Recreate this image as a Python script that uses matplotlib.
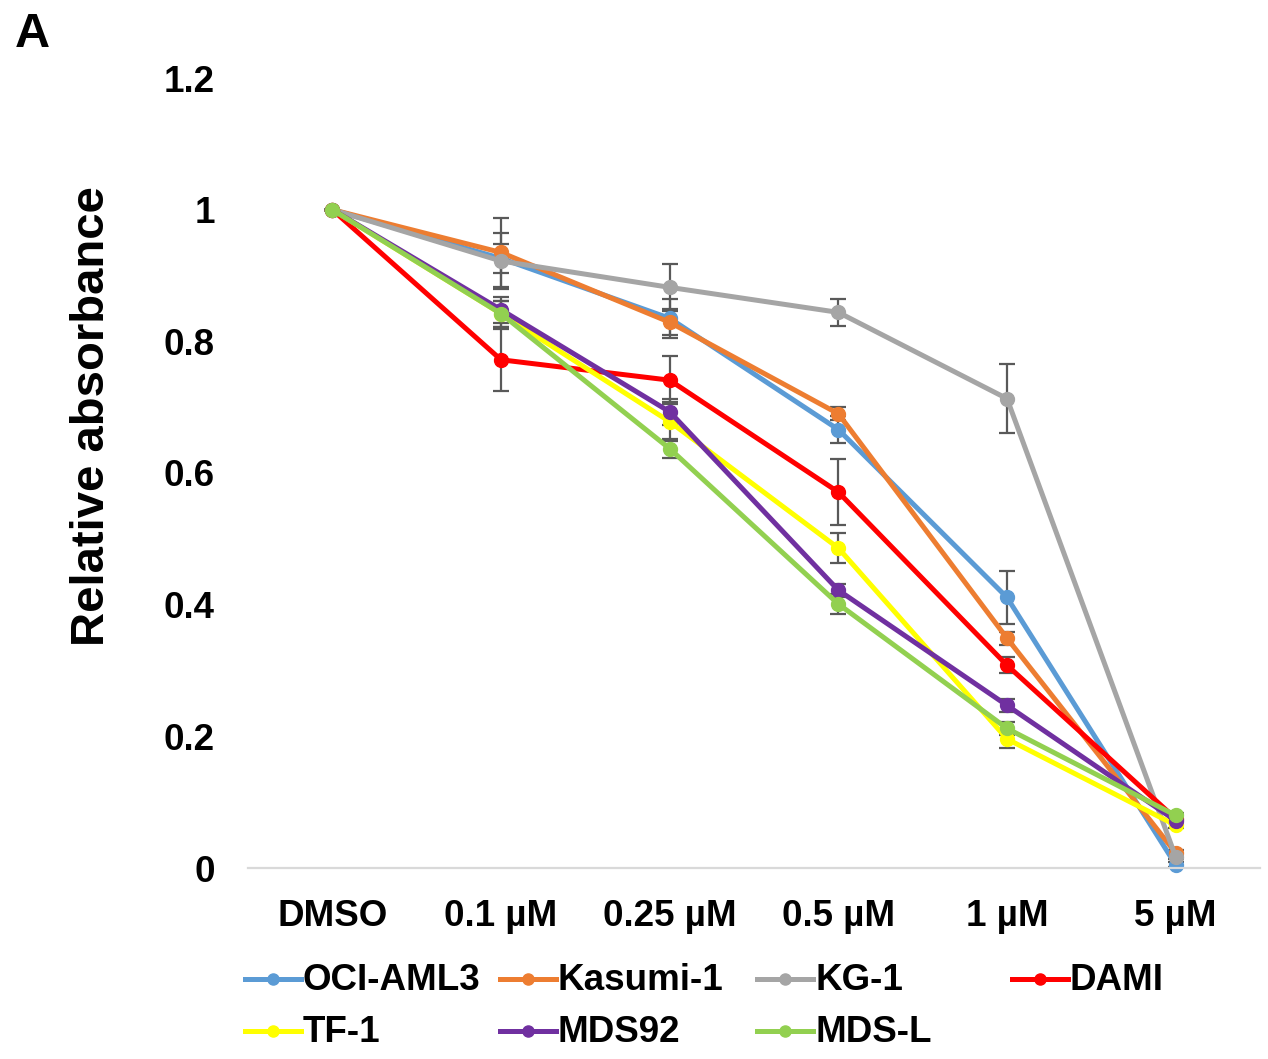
import matplotlib
matplotlib.use("Agg")
import matplotlib.pyplot as plt
from matplotlib.lines import Line2D

plt.rcParams['font.family'] = ['Liberation Sans', 'DejaVu Sans']
plt.rcParams['font.weight'] = 'bold'

# data
doses = ["DMSO", "0.1 \u00b5M", "0.25 \u00b5M", "0.5 \u00b5M", "1 \u00b5M", "5 \u00b5M"]
series_names = ["OCI-AML3", "Kasumi-1", "KG-1", "DAMI", "TF-1", "MDS92", "MDS-L"]
colors = ["#5B9BD5", "#ED7D31", "#A5A5A5", "#FF0000", "#FFFF00", "#7030A0", "#92D050"]

oci_aml3 = [1.0, 0.926, 0.835, 0.666, 0.411, 0.005]
kasumi_1 = [1.0, 0.935, 0.829, 0.690, 0.349, 0.023]
kg_1 = [1.0, 0.922, 0.882, 0.844, 0.713, 0.017]
dami = [1.0, 0.772, 0.741, 0.571, 0.308, 0.075]
tf_1 = [1.0, 0.842, 0.678, 0.486, 0.196, 0.065]
mds92 = [1.0, 0.848, 0.693, 0.422, 0.247, 0.072]
mds_l = [1.0, 0.842, 0.637, 0.401, 0.212, 0.080]

oci_aml3_err = [0, 0.022, 0.030, 0.021, 0.040, 0.004]
kasumi_1_err = [0, 0.053, 0.020, 0.010, 0.010, 0.004]
kg_1_err = [0, 0.043, 0.036, 0.021, 0.052, 0.004]
dami_err = [0, 0.047, 0.036, 0.050, 0.012, 0.004]
tf_1_err = [0, 0.020, 0.030, 0.023, 0.014, 0.004]
mds92_err = [0, 0.020, 0.020, 0.010, 0.010, 0.004]
mds_l_err = [0, 0.020, 0.014, 0.015, 0.010, 0.004]

values = [oci_aml3, kasumi_1, kg_1, dami, tf_1, mds92, mds_l]
errors = [oci_aml3_err, kasumi_1_err, kg_1_err, dami_err, tf_1_err, mds92_err, mds_l_err]

W, H = 1268, 1059
fig = plt.figure(figsize=(W / 100, H / 100), dpi=100)
ax = fig.add_axes([248 / W, 1 - 868 / H, (1260 - 248) / W, (868 - 78) / H])

x = list(range(len(doses)))

# error bars behind the lines
for vals, errs in zip(values, errors):
    ax.errorbar(x, vals, yerr=errs, fmt='none', ecolor='#595959',
                elinewidth=1.6, capsize=5.5, capthick=1.6, zorder=1)

for i, (name, vals, c) in enumerate(zip(series_names, values, colors)):
    ax.plot(x, vals, color=c, lw=3.6, marker='o', markersize=10,
            label=name, zorder=2 + i, clip_on=False)

ax.set_xlim(-0.5, len(doses) - 0.5)
ax.set_ylim(0, 1.2)
ax.set_yticks([0, 0.2, 0.4, 0.6, 0.8, 1.0, 1.2])
ax.set_yticklabels(["0", "0.2", "0.4", "0.6", "0.8", "1", "1.2"])
ax.set_xticks(x)
ax.set_xticklabels(doses)
ax.tick_params(axis='both', length=0, labelsize=26.5)
ax.tick_params(axis='y', pad=24)
ax.tick_params(axis='x', pad=22)
for lab in ax.get_xticklabels() + ax.get_yticklabels():
    lab.set_fontweight('bold')

for s in ['top', 'right', 'left']:
    ax.spines[s].set_visible(False)
ax.spines['bottom'].set_color('#D9D9D9')
ax.spines['bottom'].set_linewidth(1.6)

fig.text(92 / W, 1 - 416 / H, "Relative absorbance", rotation=90,
         ha='center', va='center', fontsize=34, fontweight='bold')
fig.text(15 / W, 1 - 12 / H, "A", ha='left', va='top',
         fontsize=35, fontweight='bold')

# legend, laid out like the original grid
col_x = [245, 500, 757, 1012]
row_y = [979, 1031]
for i, (name, c) in enumerate(zip(series_names, colors)):
    x0 = col_x[i % 4]
    y0 = row_y[i // 4]
    yf = 1 - y0 / H
    fig.add_artist(Line2D([x0 / W, (x0 + 56) / W], [yf, yf], color=c, lw=3.6))
    fig.add_artist(Line2D([(x0 + 28) / W], [yf], color=c, marker='o',
                          markersize=8, lw=0))
    fig.text((x0 + 58) / W, yf - 2 / H, name, ha='left', va='center',
             fontsize=26.5, fontweight='bold')

fig.savefig("out.png", dpi=100)
